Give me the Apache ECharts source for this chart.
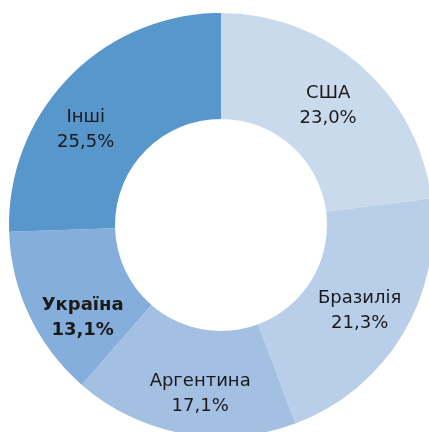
<!DOCTYPE html>
<html>
<head>
<meta charset="utf-8">
<script src="https://cdn.jsdelivr.net/npm/echarts@6/dist/echarts.min.js"></script>
<style>
  html, body { margin: 0; padding: 0; background: #fff; }
  #chart1 { width: 429px; height: 432px; }
</style>
</head>
<body>
<div id="chart1"></div>
<script>
var names = ['США', 'Бразилія', 'Аргентина', 'Україна', 'Інші'];
var values = [23.0, 21.3, 17.1, 13.1, 25.5];
var colors = ['#cadaed', '#b9cee8', '#a3bfe2', '#86aedc', '#5897cb'];
// label nudges (Excel places labels a bit differently)
var labelShift = [[0, 2], [0, 2], [8, 9], [8, 23], [-19, 18]];

var myChart = echarts.init(document.getElementById('chart1'));
var pieData = [];
for (var i = 0; i < names.length; i++) {
    pieData.push({
        name: names[i],
        value: values[i],
        itemStyle: { color: colors[i] },
        label: {
            offset: labelShift[i],
            fontWeight: names[i] === 'Україна' ? 'bold' : 'normal'
        }
    });
}

var option = {
    animation: false,
    series: [{
        type: 'pie',
        center: [221, 225],
        radius: [106, 212],
        startAngle: 90,
        clockwise: true,
        avoidLabelOverlap: false,
        data: pieData,
        itemStyle: { borderWidth: 0 },
        label: {
            show: true,
            position: 'inside',
            color: '#1a1a1a',
            fontSize: 18,
            fontFamily: 'DejaVu Sans',
            lineHeight: 25,
            formatter: function (p) {
                return p.name + '\n' + p.value.toFixed(1).replace('.', ',') + '%';
            }
        },
        labelLine: { show: false },
        emphasis: { disabled: true }
    }]
};
myChart.setOption(option);
window.addEventListener("resize", function () {
    myChart.resize();
});
</script>
</body>
</html>
